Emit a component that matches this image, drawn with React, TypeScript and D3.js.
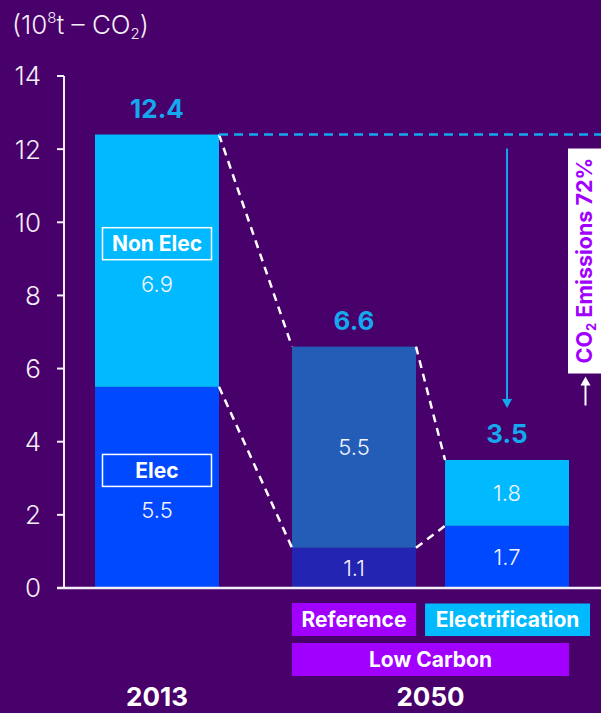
import React from "react";
import * as d3 from "d3";

// CO2 emissions (10^8 t) by end-use split, 2013 vs 2050 scenarios
const years = ["2013", "2050"];
const scenarios = ["2013", "Reference", "Electrification"];
const scenarioYear = ["2013", "2050", "2050"];
const elecValues = [5.5, 1.1, 1.7];
const nonElecValues = [6.9, 5.5, 1.8];
const totals = [12.4, 6.6, 3.5];
const yTicks = [0, 2, 4, 6, 8, 10, 12, 14];
const reductionLabel = "72%";

const W = 601;
const H = 713;
const FONT = "Inter, 'Noto Sans', sans-serif";

const BG = "#48006A";
const CYAN = "#00B9FF";
const BLUE = "#0049FF";
const PURPLE = "#A100FF";
const TOTAL_COLOR = "#14A8EF";
const SOFT_WHITE = "#F4EEF7";

// segment fills per bar: [lower (elec), upper (non elec)]
const segmentFills = [
  [BLUE, CYAN],
  ["#2424B2", "#245DB8"],
  [BLUE, CYAN],
];

export default function App() {
  const y = d3.scaleLinear().domain([0, 14]).range([588, 76]);
  const yearX = d3.scalePoint<string>().domain(years).range([157, 430.5]);
  const barW = 124;
  const groupHalf = 138.5;
  const inner = d3
    .scaleBand<string>()
    .domain(scenarios.slice(1))
    .range([yearX("2050")! - groupHalf, yearX("2050")! + groupHalf])
    .paddingInner(0.19)
    .paddingOuter(0);

  const barLeft = (i: number) =>
    scenarioYear[i] === "2013" ? yearX("2013")! - barW / 2 : inner(scenarios[i])!;

  const bars = scenarios.map((s, i) => {
    const x0 = barLeft(i);
    return {
      s,
      x0,
      x1: x0 + barW,
      cx: x0 + barW / 2,
      elec: elecValues[i],
      nonElec: nonElecValues[i],
      total: totals[i],
      fills: segmentFills[i],
    };
  });

  const axisX = 64;
  const base = y(0);

  // dashed connectors between neighbouring bars
  const connectors: { x1: number; y1: number; x2: number; y2: number }[] = [];
  for (let i = 0; i < bars.length - 1; i++) {
    const a = bars[i];
    const b = bars[i + 1];
    connectors.push({ x1: a.x1, y1: y(a.total), x2: b.x0, y2: y(b.total) });
    connectors.push({ x1: a.x1, y1: y(a.elec), x2: b.x0, y2: y(b.elec) });
  }

  const last = bars[bars.length - 1];
  const arrowTop = y(totals[0]) + 14;
  const arrowBottom = y(last.total) - 52;

  const ref = bars[1];
  const elecBar = bars[2];

  return (
    <svg
      width={W}
      height={H}
      style={{ position: "absolute", left: 0, top: 0, display: "block" }}
      fontFamily={FONT}
    >
      <rect x={0} y={0} width={W} height={H} fill={BG} />

      {/* unit label */}
      <text x={12} y={34} fill={SOFT_WHITE} fontSize={26} fontWeight={300}>
        (10
        <tspan fontSize={15} dy={-11}>8</tspan>
        <tspan dy={11}>t – CO</tspan>
        <tspan fontSize={15} dy={5}>2</tspan>
        <tspan dy={-5}>)</tspan>
      </text>

      {/* y axis */}
      <line x1={axisX} x2={axisX} y1={y(14)} y2={base} stroke={SOFT_WHITE} strokeWidth={2} />
      {yTicks.map((t) => (
        <g key={t}>
          <line x1={axisX - 7} x2={axisX} y1={y(t)} y2={y(t)} stroke={SOFT_WHITE} strokeWidth={2} />
          <text
            x={41}
            y={y(t)}
            dy="0.36em"
            textAnchor="end"
            fill={SOFT_WHITE}
            fontSize={26}
            fontWeight={300}
          >
            {t}
          </text>
        </g>
      ))}

      {/* bars */}
      {bars.map((b) => (
        <g key={b.s}>
          <rect x={b.x0} width={barW} y={y(b.elec)} height={base - y(b.elec)} fill={b.fills[0]} />
          <rect
            x={b.x0}
            width={barW}
            y={y(b.total)}
            height={y(b.elec) - y(b.total)}
            fill={b.fills[1]}
          />
          <text
            x={b.cx}
            y={y(b.total) - 26}
            dy="0.36em"
            textAnchor="middle"
            fill={TOTAL_COLOR}
            fontSize={26}
            fontWeight={700}
          >
            {b.total}
          </text>
        </g>
      ))}

      {/* 2013 segment labels */}
      {(() => {
        const b = bars[0];
        const segs = [
          { name: "Non Elec", v: b.nonElec, mid: (y(b.total) + y(b.elec)) / 2, w: 109 },
          { name: "Elec", v: b.elec, mid: (y(b.elec) + base) / 2, w: 109 },
        ];
        return segs.map((sg) => (
          <g key={sg.name}>
            <rect
              x={b.cx - sg.w / 2}
              y={sg.mid - 17 - 16}
              width={sg.w}
              height={32}
              fill="none"
              stroke="#FFFFFF"
              strokeWidth={1.5}
            />
            <text
              x={b.cx}
              y={sg.mid - 17}
              dy="0.36em"
              textAnchor="middle"
              fill="#FFFFFF"
              fontSize={21}
              fontWeight={700}
            >
              {sg.name}
            </text>
            <text
              x={b.cx}
              y={sg.mid + 23}
              dy="0.36em"
              textAnchor="middle"
              fill="#F4F4FF"
              fontSize={22}
              fontWeight={300}
            >
              {sg.v}
            </text>
          </g>
        ));
      })()}

      {/* 2050 segment values */}
      {bars.slice(1).map((b) => (
        <g key={b.s + "-v"}>
          <text
            x={b.cx}
            y={(y(b.total) + y(b.elec)) / 2}
            dy="0.36em"
            textAnchor="middle"
            fill="#F4F4FF"
            fontSize={22}
            fontWeight={300}
          >
            {b.nonElec}
          </text>
          <text
            x={b.cx}
            y={(y(b.elec) + base) / 2}
            dy="0.36em"
            textAnchor="middle"
            fill="#F4F4FF"
            fontSize={22}
            fontWeight={300}
          >
            {b.elec}
          </text>
        </g>
      ))}

      {/* connectors */}
      {connectors.map((c, i) => (
        <line
          key={i}
          x1={c.x1}
          y1={c.y1}
          x2={c.x2}
          y2={c.y2}
          stroke="#FFFFFF"
          strokeWidth={2.5}
          strokeDasharray="8 6"
        />
      ))}

      {/* 2013 total reference line */}
      <line
        x1={bars[0].x1}
        x2={W}
        y1={y(totals[0])}
        y2={y(totals[0])}
        stroke={TOTAL_COLOR}
        strokeWidth={2.5}
        strokeDasharray="9 6"
      />

      {/* reduction arrow */}
      <line
        x1={last.cx}
        x2={last.cx}
        y1={arrowTop}
        y2={arrowBottom - 8}
        stroke={TOTAL_COLOR}
        strokeWidth={2}
      />
      <path
        d={`M${last.cx - 5},${arrowBottom - 9} L${last.cx + 5},${arrowBottom - 9} L${last.cx},${arrowBottom} Z`}
        fill={TOTAL_COLOR}
      />

      {/* reduction callout */}
      <rect x={568} y={arrowTop} width={W - 568} height={225} fill="#FFFFFF" />
      <text
        transform={`translate(584.5, ${arrowTop + 112}) rotate(-90)`}
        textAnchor="middle"
        dy="0.36em"
        fill={PURPLE}
        fontSize={21.5}
        fontWeight={700}
      >
        CO<tspan fontSize={13} dy={4}>2</tspan>
        <tspan dy={-4}> Emissions {reductionLabel}</tspan>
      </text>
      <line x1={585.5} x2={585.5} y1={arrowTop + 257} y2={arrowTop + 235} stroke="#FFFFFF" strokeWidth={2} />
      <path
        d={`M${580.5},${arrowTop + 237} L${590.5},${arrowTop + 237} L${585.5},${arrowTop + 228} Z`}
        fill="#FFFFFF"
      />

      {/* baseline */}
      <line x1={axisX - 7} x2={W} y1={base} y2={base} stroke={SOFT_WHITE} strokeWidth={2.5} />

      {/* scenario tags */}
      <rect x={ref.x0} y={603} width={barW} height={33} fill={PURPLE} />
      <text x={ref.cx} y={619.5} dy="0.36em" textAnchor="middle" fill="#FFFFFF" fontSize={21} fontWeight={700}>
        Reference
      </text>
      <rect x={elecBar.x0 - 20} y={603.5} width={165} height={32.5} fill={CYAN} />
      <text
        x={elecBar.x0 - 20 + 82.5}
        y={619.5}
        dy="0.36em"
        textAnchor="middle"
        fill="#FFFFFF"
        fontSize={21}
        fontWeight={700}
      >
        Electrification
      </text>
      <rect x={ref.x0} y={643} width={elecBar.x1 - ref.x0} height={33} fill={PURPLE} />
      <text
        x={(ref.x0 + elecBar.x1) / 2}
        y={659.5}
        dy="0.36em"
        textAnchor="middle"
        fill="#FFFFFF"
        fontSize={21}
        fontWeight={700}
      >
        Low Carbon
      </text>

      {/* year labels */}
      {years.map((yr) => (
        <text
          key={yr}
          x={yearX(yr)}
          y={697}
          dy="0.36em"
          textAnchor="middle"
          fill="#FFFFFF"
          fontSize={26}
          fontWeight={700}
        >
          {yr}
        </text>
      ))}
    </svg>
  );
}
